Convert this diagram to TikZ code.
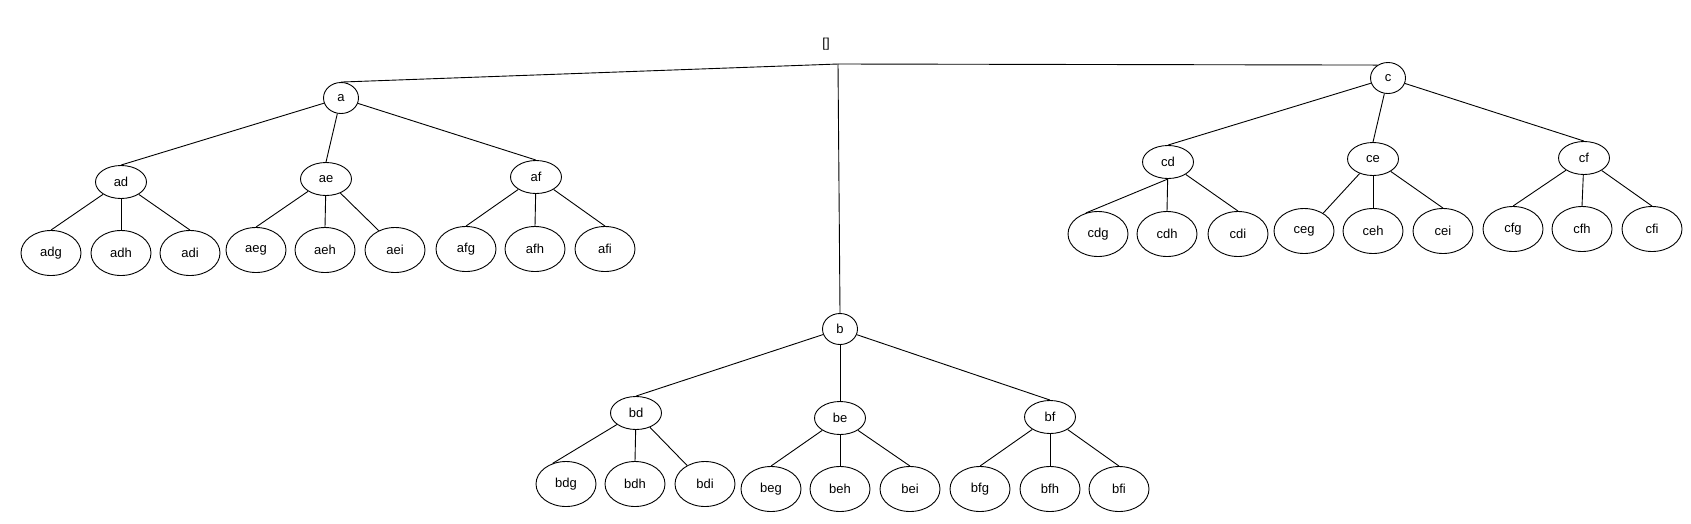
\documentclass[tikz,border=0pt]{standalone}
\usepackage{fontspec}
\setmainfont{Liberation Sans}
\usetikzlibrary{shapes.geometric}
\tikzset{
    every node/.style={font=\fontsize{13}{15}\selectfont},
    edge/.style={line width=0.9pt},
    toplevel/.style={draw, line width=0.9pt, ellipse, inner sep=0pt,
        minimum width=35pt, minimum height=31pt},
    midlevel/.style={draw, line width=0.9pt, ellipse, inner sep=0pt,
        minimum width=51pt, minimum height=33pt},
    leaflevel/.style={draw, line width=0.9pt, ellipse, inner sep=0pt,
        minimum width=60pt, minimum height=45pt},
}

\begin{document}
\begin{tikzpicture}[x=1pt, y=-1pt]
    \useasboundingbox (0, 0) rectangle (1691, 523);
    \node (root) at (826, 44) {[]};
    \coordinate (junction) at (838, 64);
    \node[toplevel] (a) at (341, 98) {a};
    \node[toplevel] (b) at (840, 329) {b};
    \node[toplevel] (c) at (1388, 78) {c};
    \foreach \n/\x/\y in {ad/121/182, ae/326/179, af/536/177,
        bd/636/413, be/840/418, bf/1050/417,
        cd/1168/162, ce/1373/159, cf/1584/158}
        \node[midlevel] (\n) at (\x, \y) {\n};
    \foreach \n/\x/\y in {adg/51/253, adh/121/253, adi/190/253,
        aeg/256/250, aeh/325/250, aei/395/250,
        afg/466/249, afh/535/249, afi/605/249,
        bdg/566/484, bdh/635/484, bdi/705/484,
        beg/771/489, beh/840/489, bei/910/489,
        bfg/980/489, bfh/1050/489, bfi/1119/489,
        cdg/1098/234, cdh/1167/234, cdi/1238/234,
        ceg/1304/231, ceh/1373/231, cei/1443/231,
        cfg/1513/229, cfh/1582/229, cfi/1652/229}
        \node[leaflevel] (\n) at (\x, \y) {\n};
    % edges
    \foreach \from/\to in {junction/a.north, junction/b.north, junction/c.129,
        a/ad.north, a/ae.north, a/af.north,
        b/bd.north, b/be.north, b/bf.north,
        c/cd.north, c/ce.north, c/cf.north,
        ad/adg.north, ad/adh.north, ad/adi.north,
        ae/aeg.north, ae/aeh.north, ae/aei.130,
        af/afg.north, af/afh.north, af/afi.north,
        bd/bdg.123, bd/bdh.north, bd/bdi.134,
        be/beg.north, be/beh.north, be/bei.north,
        bf/bfg.north, bf/bfh.north, bf/bfi.north,
        cd.south/cdg.120, cd/cdh.north, cd/cdi.north,
        ce/ceg.43, ce/ceh.north, ce/cei.north,
        cf/cfg.north, cf/cfh.north, cf/cfi.north}
        \draw[edge] (\from) -- (\to);
\end{tikzpicture}
\end{document}
